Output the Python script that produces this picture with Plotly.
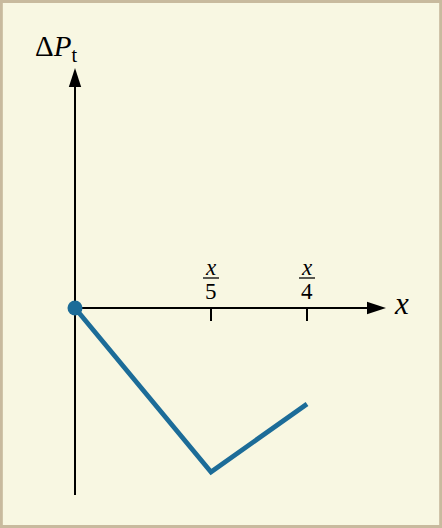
import plotly.graph_objects as go

# data (x in units where tick x/5 = 1)
x_vals = [0, 1, 1.706]
y_vals = [0, -1, -0.585]
tick_vals = [1, 1.706]
tick_denoms = ["5", "4"]

W, H = 442, 528
ox, oy = 75, 308          # origin in pixels
sx, sy = 136, 164         # pixels per unit

x_range = [-ox / sx, (W - ox) / sx]
y_range = [-(H - oy) / sy, oy / sy]

def px_x(p):
    return (p - ox) / sx

def px_y(p):
    return (oy - p) / sy

blue = "#1C6C98"
serif = "Liberation Serif"

fig = go.Figure()

# axis lines (drawn as traces)
fig.add_trace(go.Scatter(x=[0, 0], y=[px_y(495), px_y(80)], mode="lines",
                         line=dict(color="black", width=2), hoverinfo="skip", showlegend=False))
fig.add_trace(go.Scatter(x=[0, px_x(375)], y=[0, 0], mode="lines",
                         line=dict(color="black", width=2), hoverinfo="skip", showlegend=False))
# arrowheads as markers
fig.add_trace(go.Scatter(x=[0], y=[px_y(68)], mode="markers",
                         marker=dict(symbol="arrow", size=20, color="black", angle=0, line=dict(width=0)),
                         hoverinfo="skip", showlegend=False))
fig.add_trace(go.Scatter(x=[px_x(386)], y=[0], mode="markers",
                         marker=dict(symbol="arrow", size=20, color="black", angle=90, line=dict(width=0)),
                         hoverinfo="skip", showlegend=False))

# tick marks
for tv in tick_vals:
    fig.add_trace(go.Scatter(x=[tv, tv], y=[0, px_y(321)], mode="lines",
                             line=dict(color="black", width=2), hoverinfo="skip", showlegend=False))

# data line
fig.add_trace(go.Scatter(x=x_vals, y=y_vals, mode="lines",
                         line=dict(color=blue, width=4.8), hoverinfo="skip", showlegend=False))
fig.add_trace(go.Scatter(x=[x_vals[0]], y=[y_vals[0]], mode="markers",
                         marker=dict(color=blue, size=15), hoverinfo="skip", showlegend=False))

annotations = []

# tick labels as fractions
shapes = []
for tv, d in zip(tick_vals, tick_denoms):
    annotations.append(dict(x=tv, y=px_y(267), xref="x", yref="y", text="<i>x</i>", showarrow=False,
                            font=dict(family=serif, size=23, color="black"), yanchor="middle"))
    annotations.append(dict(x=tv, y=px_y(291), xref="x", yref="y", text=d, showarrow=False,
                            font=dict(family=serif, size=23, color="black"), yanchor="middle"))
    shapes.append(dict(type="line", xref="x", yref="y", x0=tv - 8 / sx, x1=tv + 8 / sx,
                       y0=px_y(278), y1=px_y(278), line=dict(color="black", width=1.3)))

# axis labels
annotations.append(dict(x=px_x(401), y=px_y(303), xref="x", yref="y", text="<i>x</i>", showarrow=False,
                        font=dict(family=serif, size=31, color="black"), yanchor="middle"))
annotations.append(dict(x=px_x(33), y=px_y(48), xref="x", yref="y", xanchor="left",
                        text="Δ<i>P</i><sub>t</sub>", showarrow=False,
                        font=dict(family=serif, size=29, color="black"), yanchor="middle"))

# border
shapes.append(dict(type="rect", xref="paper", yref="paper", x0=0.003, x1=0.997, y0=0.003, y1=0.997,
                   line=dict(color="#C8BA9E", width=3), layer="above"))

fig.update_layout(
    width=W, height=H,
    margin=dict(l=0, r=0, t=0, b=0),
    paper_bgcolor="#F8F7E2", plot_bgcolor="#F8F7E2",
    xaxis=dict(range=x_range, visible=False, fixedrange=True),
    yaxis=dict(range=y_range, visible=False, fixedrange=True),
    annotations=annotations, shapes=shapes,
)

fig.write_html("out.html", config={"displayModeBar": False},
               post_script="document.body.style.margin='0';document.body.style.padding='0';")
